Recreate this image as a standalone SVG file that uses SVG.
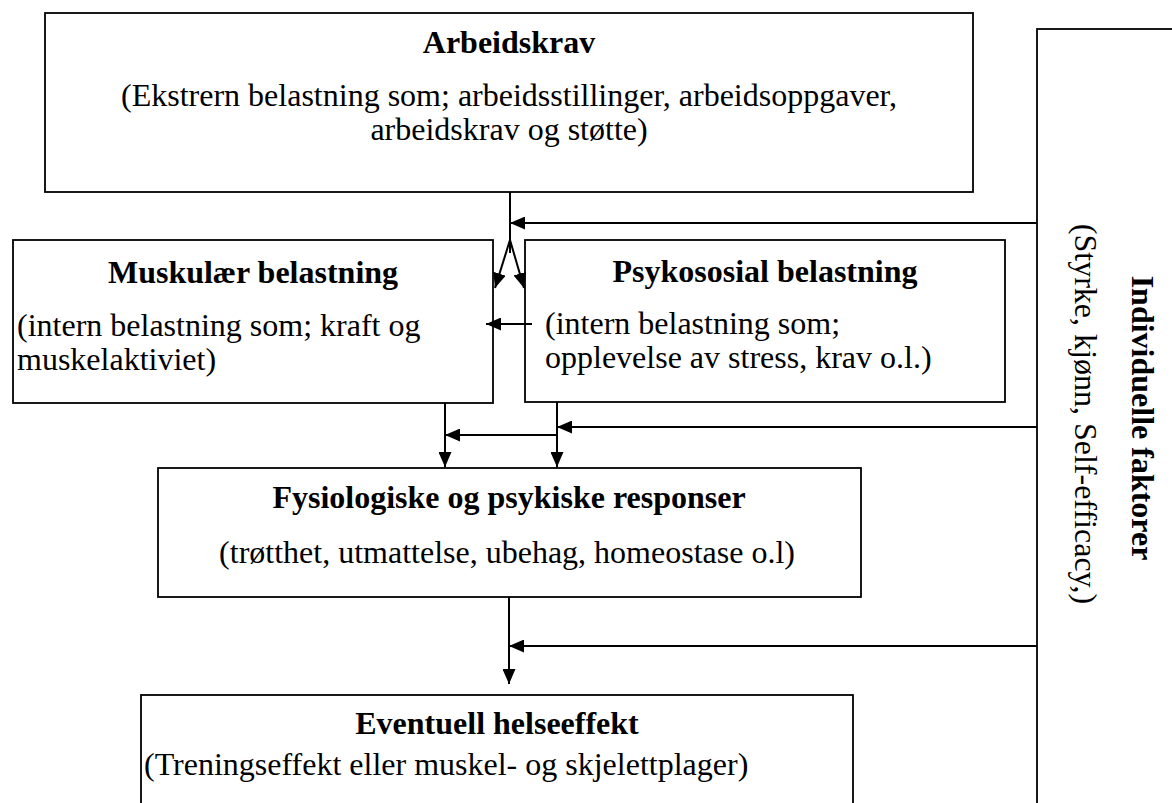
<svg xmlns="http://www.w3.org/2000/svg" width="1172" height="803" viewBox="0 0 1172 803">
<style>
.box{fill:#fff;stroke:#000;stroke-width:1.8}
.ln{fill:none;stroke:#000;stroke-width:2}
.t{font-family:"Liberation Serif","Times New Roman",serif;font-size:32px;fill:#000}
.b{font-weight:bold}
.m{text-anchor:middle}
</style>
<defs>
<marker id="ah" markerUnits="userSpaceOnUse" markerWidth="16" markerHeight="13" refX="15" refY="6.5" orient="auto">
<path d="M0,0 L15,6.5 L0,13 z" fill="#000"/>
</marker>
</defs>
<rect width="1172" height="803" fill="#fff"/>
<g id="arbeidskrav">
<rect class="box" x="45" y="13" width="928" height="179"/>
<text class="t b m" x="509" y="53">Arbeidskrav</text>
<text class="t m" x="509" y="106">(Ekstrern belastning som; arbeidsstillinger, arbeidsoppgaver,</text>
<text class="t m" x="509" y="140">arbeidskrav og støtte)</text>
</g>
<g id="muskular">
<rect class="box" x="13" y="240" width="480" height="163"/>
<text class="t b m" x="253" y="283">Muskulær belastning</text>
<text class="t" x="17" y="336">(intern belastning som; kraft og</text>
<text class="t" x="17" y="370">muskelaktiviet)</text>
</g>
<g id="psykososial">
<rect class="box" x="525" y="240" width="480" height="162"/>
<text class="t b m" x="765" y="282">Psykososial belastning</text>
<text class="t" x="545" y="334">(intern belastning som;</text>
<text class="t" x="545" y="368">opplevelse av stress, krav o.l.)</text>
</g>
<g id="fysiologiske">
<rect class="box" x="158" y="468" width="703" height="129"/>
<text class="t b m" x="509" y="508">Fysiologiske og psykiske responser</text>
<text class="t m" x="507" y="563">(trøtthet, utmattelse, ubehag, homeostase o.l)</text>
</g>
<g id="helseeffekt">
<rect class="box" x="141" y="695" width="712" height="120"/>
<text class="t b m" x="497" y="734">Eventuell helseeffekt</text>
<text class="t" x="144" y="775">(Treningseffekt eller muskel- og skjelettplager)</text>
</g>
<g id="individuelle">
<rect class="box" x="1037" y="29" width="150" height="790"/>
<text class="t b m" transform="translate(1132,418) rotate(90)">Individuelle faktorer</text>
<text class="t m" transform="translate(1075,414) rotate(90)">(Styrke, kjønn, Self-efficacy,)</text>
</g>
<g id="connectors">
<path class="ln" d="M510,192 V253"/>
<path class="ln" d="M510,240 L495,288" marker-end="url(#ah)"/>
<path class="ln" d="M510,240 L524,288" marker-end="url(#ah)"/>
<path class="ln" d="M1037,223 H510" marker-end="url(#ah)"/>
<path class="ln" d="M532,324 H486" marker-end="url(#ah)"/>
<path class="ln" d="M445,403 V467" marker-end="url(#ah)"/>
<path class="ln" d="M557,402 V467" marker-end="url(#ah)"/>
<path class="ln" d="M557,435 H445" marker-end="url(#ah)"/>
<path class="ln" d="M1037,427 H557" marker-end="url(#ah)"/>
<path class="ln" d="M509,597 V684" marker-end="url(#ah)"/>
<path class="ln" d="M1037,646 H509" marker-end="url(#ah)"/>
</g>
</svg>
